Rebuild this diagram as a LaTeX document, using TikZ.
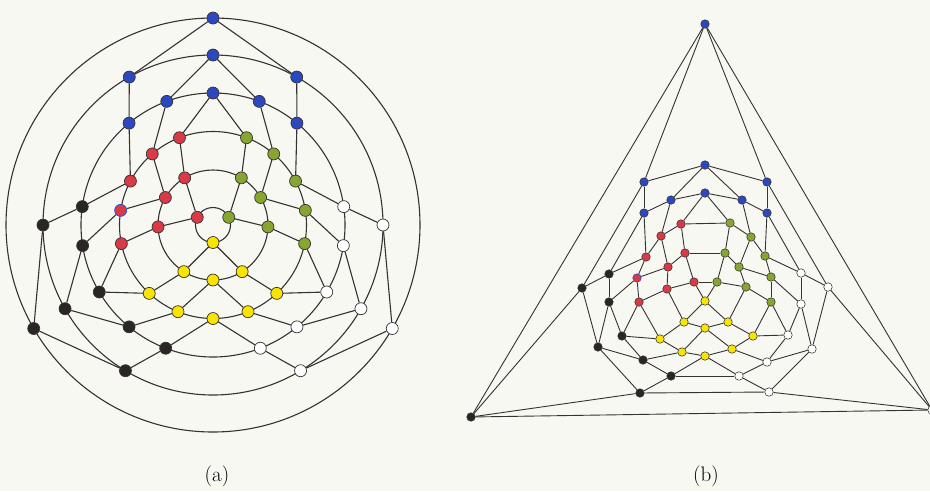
\documentclass[tikz,border=0pt]{standalone}
\usepackage{tikz}
\definecolor{bgc}{RGB}{246,248,241}
\definecolor{cblue}{RGB}{43,72,192}
\definecolor{cred}{RGB}{217,58,69}
\definecolor{cgreen}{RGB}{134,165,49}
\definecolor{cyellow}{RGB}{247,228,0}
\definecolor{cblack}{RGB}{43,38,38}
\definecolor{cline}{RGB}{55,50,50}
\pgfdeclarelayer{back}
\pgfdeclarelayer{edges}
\pgfsetlayers{back,edges,main}
\tikzset{
 edgea/.style={draw=cline,line width=1.1pt},
 edgeb/.style={draw=cline,line width=0.9pt},
 va/.style={circle,line width=0.7pt,minimum size=12pt,inner sep=0pt},
 vb/.style={circle,line width=0.55pt,minimum size=8.5pt,inner sep=0pt},
 lab/.style={font=\fontsize{21}{25}\selectfont,anchor=base,inner sep=0pt}
}
\begin{document}
\begin{tikzpicture}[x=1pt,y=-1pt]
\useasboundingbox (0,0) rectangle (930,491);
\begin{pgfonlayer}{back}
\fill[bgc] (0,0) rectangle (930,491);
\end{pgfonlayer}
\coordinate (ca) at (213,225);
% ---------- (a) nodes, polar around (ca)
\foreach \n/\c/\d/\t/\r in {
 B1/cblue/cline/-90/207, B2/cblue/cline/-90/170, B3/cblue/cline/-119.5/170,
 B4/cblue/cline/-60.5/170, B5/cblue/cline/-110.5/132, B6/cblue/cline/-90/132,
 B7/cblue/cline/-69.5/132, B8/cblue/cline/-129.5/132, B9/cblue/cline/-50.5/132,
 R1/cred/cline/-111/93.5, R2/cred/cline/-130.5/93.5, R3/cred/cline/-152/93.5,
 R4/cred/cline/-121/55, R5/cred/cline/-150/55, R6/cred/cblue/-171/93.5,
 R7/cred/cline/-154/17.5, R8/cred/cline/178/55, R9/cred/cline/168.5/93.5,
 G1/cgreen/cline/-69/93.5, G2/cgreen/cline/-49.5/93.5, G3/cgreen/cline/-28/93.5,
 G4/cgreen/cline/-59/55, G5/cgreen/cline/-30/55, G6/cgreen/cline/-9/93.5,
 G7/cgreen/cline/-26/17.5, G8/cgreen/cline/2/55, G9/cgreen/cline/11.5/93.5,
 Y1/cyellow/cline/90/17.5, Y2/cyellow/cline/122/55, Y3/cyellow/cline/58/55,
 Y4/cyellow/cline/90/55, Y5/cyellow/cline/133/93.5, Y6/cyellow/cline/47/93.5,
 Y7/cyellow/cline/112/93.5, Y8/cyellow/cline/68/93.5, Y9/cyellow/cline/90/93.5,
 K1/cblack/cline/-172/132, K2/cblack/cline/180/170, K3/cblack/cline/171/132,
 K4/cblack/cline/149.5/132, K5/cblack/cline/150.5/170, K6/cblack/cline/150/207,
 K7/cblack/cline/129.5/132, K8/cblack/cline/111/132, K9/cblack/cline/121/170,
 W1/white/cline/-8/132, W2/white/cline/0/170, W3/white/cline/9/132,
 W4/white/cline/30.5/132, W5/white/cline/29.5/170, W6/white/cline/30/207,
 W7/white/cline/50.5/132, W8/white/cline/69/132, W9/white/cline/59/170}
 {\path (ca) ++(\t:\r) node[va,fill=\c,draw=\d] (a\n) {};}
% ---------- (b) nodes
\foreach \n/\c/\d/\x/\y in {
 B1/cblue/cline/705/24, B2/cblue/cline/705/165, B3/cblue/cline/644/182,
 B4/cblue/cline/767/182, B5/cblue/cline/671/200, B6/cblue/cline/705/193,
 B7/cblue/cline/742/200, B8/cblue/cline/644/213, B9/cblue/cline/767/213,
 R1/cred/cline/681/224, R2/cred/cline/661/236, R3/cred/cline/646/257,
 R4/cred/cline/685/253, R5/cred/cline/668/267, R6/cred/cblue/637/278,
 R7/cred/cline/694/282, R8/cred/cline/667/289, R9/cred/cline/639/302,
 G1/cgreen/cline/730/223, G2/cgreen/cline/751/237, G3/cgreen/cline/765/256,
 G4/cgreen/cline/725/253, G5/cgreen/cline/739/267, G6/cgreen/cline/771/277,
 G7/cgreen/cline/717/282, G8/cgreen/cline/746/287, G9/cgreen/cline/771/302,
 Y1/cyellow/cline/705/301, Y2/cyellow/cline/684/322, Y3/cyellow/cline/728/322,
 Y4/cyellow/cline/705/328, Y5/cyellow/cline/660/339, Y6/cyellow/cline/753/336,
 Y7/cyellow/cline/682/352, Y8/cyellow/cline/732/349, Y9/cyellow/cline/705/356,
 K1/cblack/cline/609/274, K2/cblack/cline/582/288, K3/cblack/cline/609/302,
 K4/cblack/cline/622/336, K5/cblack/cline/598/347, K6/cblack/cline/471/417,
 K7/cblack/cline/643/360, K8/cblack/cline/671/376, K9/cblack/cline/640/393,
 W1/white/cline/801/273, W2/white/cline/828/287, W3/white/cline/801/304,
 W4/white/cline/788/335, W5/white/cline/812/349, W6/white/cline/932/410,
 W7/white/cline/767/362, W8/white/cline/739/376, W9/white/cline/769/392}
 {\node[vb,fill=\c,draw=\d] (b\n) at (\x,\y) {};}
\begin{pgfonlayer}{edges}
% rings of (a)
\foreach \r in {207,170,132,93.5,55,17.5}
 {\draw[edgea] (ca) circle[radius=\r];}
% straight edges of (a) and (b)
\foreach \u/\v in {B1/B3,B1/B4,B2/B5,B2/B7,B3/B8,B4/B9,B5/R2,B6/R1,B6/G1,B7/G2,
 B8/R3,B9/G3,R1/R4,R2/R5,R3/K1,R4/R7,R5/R6,R6/K3,R7/R8,R8/R9,R9/K4,
 G1/G4,G2/G5,G3/W1,G4/G7,G5/G6,G6/W3,G7/G8,G8/G9,G9/W4,
 Y1/Y2,Y1/Y3,Y2/Y5,Y3/Y6,Y4/Y7,Y4/Y8,Y5/K4,Y6/W4,Y7/K7,Y8/W7,Y9/K8,Y9/W8,
 K1/K2,K2/K6,K3/K5,K5/K7,K6/K9,K8/K9,W1/W2,W2/W6,W3/W5,W5/W7,W6/W9,W8/W9}
 {\draw[edgea] (a\u) -- (a\v); \draw[edgeb] (b\u) -- (b\v);}
% edges that lie on the rings in (a), straight in (b)
\foreach \u/\v in {B1/K6,K6/W6,W6/B1,
 B2/B3,B3/K2,K2/K5,K5/K9,K9/W9,W9/W5,W5/W2,W2/B4,B4/B2,
 B6/B5,B5/B8,B8/K1,K1/K3,K3/K4,K4/K7,K7/K8,K8/W8,W8/W7,W7/W4,W4/W3,W3/W1,W1/B9,B9/B7,B7/B6,
 R1/R2,R2/R3,R3/R6,R6/R9,R9/Y5,Y5/Y7,Y7/Y9,Y9/Y8,Y8/Y6,Y6/G9,G9/G6,G6/G3,G3/G2,G2/G1,G1/R1,
 R4/G4,G4/G5,G5/G8,G8/Y3,Y3/Y4,Y4/Y2,Y2/R8,R8/R5,R5/R4,
 R7/G7,G7/Y1,Y1/R7}
 {\draw[edgeb] (b\u) -- (b\v);}
\end{pgfonlayer}
\node[lab] (la) at (217,481) {(a)};
\node[lab] (lb) at (706,481) {(b)};
\end{tikzpicture}
\end{document}
